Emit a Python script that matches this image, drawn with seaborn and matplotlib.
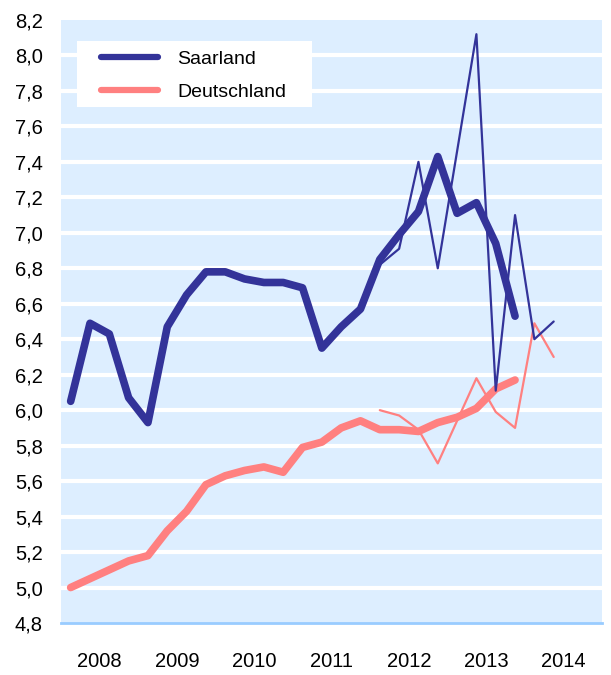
import pandas as pd
import seaborn as sns
import matplotlib.pyplot as plt
from matplotlib.lines import Line2D
from matplotlib.patches import Rectangle

# Quarterly values, 2008 Q1 ... 2014 Q2
years = ['2008', '2009', '2010', '2011', '2012', '2013', '2014']

# smoothed series (thick lines), 2008 Q1 - 2013 Q4
saar_trend = [6.05, 6.49, 6.43, 6.07, 5.93, 6.47, 6.65, 6.78,
              6.78, 6.74, 6.72, 6.72, 6.69, 6.35, 6.47, 6.57,
              6.85, 6.99, 7.12, 7.43, 7.11, 7.17, 6.94, 6.53]
de_trend = [5.00, 5.05, 5.10, 5.15, 5.18, 5.32, 5.43, 5.58,
            5.63, 5.66, 5.68, 5.65, 5.79, 5.82, 5.90, 5.94,
            5.89, 5.89, 5.88, 5.93, 5.96, 6.01, 6.12, 6.17]

# raw quarterly values (thin lines), 2012 Q1 - 2014 Q2
saar_raw = [6.82, 6.91, 7.40, 6.80, 7.46, 8.12, 6.11, 7.10, 6.40, 6.50]
de_raw = [6.00, 5.97, 5.89, 5.70, 5.94, 6.18, 5.99, 5.90, 6.49, 6.30]
raw_start = 16

blue = '#333399'
pink = '#FF8080'

df_trend = pd.DataFrame({
    'q': [i + 0.5 for i in range(len(saar_trend))],
    'Saarland': saar_trend,
    'Deutschland': de_trend,
})
df_raw = pd.DataFrame({
    'q': [raw_start + i + 0.5 for i in range(len(saar_raw))],
    'Saarland': saar_raw,
    'Deutschland': de_raw,
})

sns.set_style('white')
plt.rcParams['font.family'] = ['Liberation Sans', 'DejaVu Sans']
plt.rcParams['text.color'] = 'black'
plt.rcParams['xtick.labelcolor'] = 'black'
plt.rcParams['ytick.labelcolor'] = 'black'

fig = plt.figure(figsize=(6.11, 6.75), dpi=100)
ax = fig.add_axes([61 / 611, 1 - 623 / 675, 541 / 611, 603 / 675])
ax.set_facecolor('#DDEEFF')

# white horizontal grid bands
for v in [5.0 + 0.2 * k for k in range(16)]:
    ax.axhline(v, color='white', lw=3, zorder=1)

caps = dict(solid_capstyle='round', solid_joinstyle='round')
sns.lineplot(data=df_trend, x='q', y='Deutschland', color=pink, lw=5.5, ax=ax, zorder=3, **caps)
sns.lineplot(data=df_raw, x='q', y='Deutschland', color=pink, lw=1.6, ax=ax, zorder=4, **caps)
sns.lineplot(data=df_raw, x='q', y='Saarland', color=blue, lw=1.6, ax=ax, zorder=4, **caps)
sns.lineplot(data=df_trend, x='q', y='Saarland', color=blue, lw=5.5, ax=ax, zorder=5, **caps)

ax.set_xlim(0, 28)
ax.set_ylim(4.8, 8.2)
ax.set_xlabel('')
ax.set_ylabel('')

yt = [4.8 + 0.2 * k for k in range(18)]
ax.set_yticks(yt)
ax.set_yticklabels([f'{v:.1f}'.replace('.', ',') for v in yt], fontsize=14.5)
ax.tick_params(axis='y', length=0, pad=13, labelcolor='black')

ax.set_xticks(range(0, 29, 4))
ax.set_xticklabels([])
ax.set_xticks([2 + 4 * i for i in range(len(years))], minor=True)
ax.set_xticklabels(years, minor=True, fontsize=14.5)
ax.tick_params(axis='x', which='major', length=4, width=2, color='#99CCFF', direction='out')
ax.tick_params(axis='x', which='minor', length=0, pad=21, labelcolor='black')

for s in ['top', 'right', 'left']:
    ax.spines[s].set_visible(False)
ax.spines['bottom'].set_color('#99CCFF')
ax.spines['bottom'].set_linewidth(2)

# white legend box
ax.add_patch(Rectangle((16 / 541, 516 / 603), 235 / 541, 66 / 603,
                       transform=ax.transAxes, facecolor='white',
                       edgecolor='none', zorder=6))
handles = [Line2D([], [], color=blue, lw=4.5, solid_capstyle='round'),
           Line2D([], [], color=pink, lw=4.5, solid_capstyle='round')]
leg = ax.legend(handles, ['Saarland', 'Deutschland'], loc='upper left',
                bbox_to_anchor=(40 / 541, 573 / 603), borderaxespad=0,
                frameon=False, fontsize=14,
                handlelength=2.93, handletextpad=0.98, borderpad=0,
                labelspacing=0.82)
leg.set_zorder(7)

fig.savefig('out.png', dpi=100)
